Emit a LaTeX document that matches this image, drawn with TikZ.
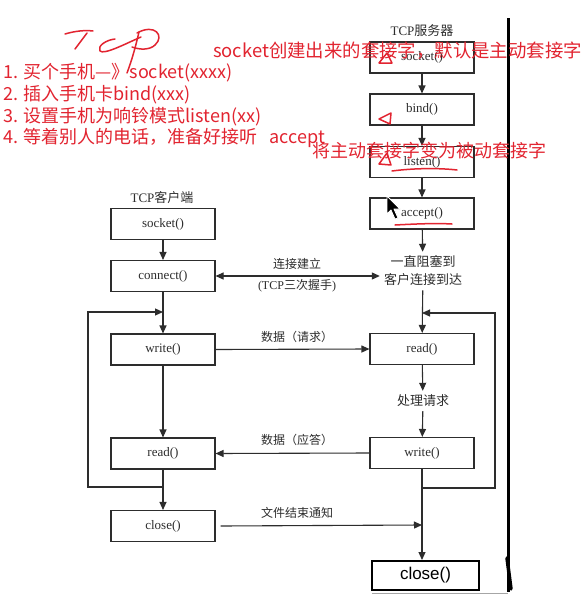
\documentclass[tikz,border=0pt]{standalone}
\usepackage{fontspec}
\setmainfont{Liberation Serif}
\setsansfont{Liberation Sans}
\newfontfamily\cjk{Noto Sans CJK SC}
\usetikzlibrary{arrows.meta,calc}

\definecolor{ink}{RGB}{45,45,45}
\definecolor{pen}{RGB}{226,36,48}

\begin{document}
\begin{tikzpicture}[x=1pt,y=-1pt,
  box/.style={draw=ink, line width=1.1pt, fill=white, minimum width=104pt,
    minimum height=31pt, inner sep=0pt, text=ink, font=\fontsize{13}{14}\selectfont},
  flow/.style={draw=ink, line width=1.1pt, -{Triangle[length=8pt,width=7pt]}},
  both/.style={draw=ink, line width=1.1pt, {Triangle[length=8pt,width=7pt]}-{Triangle[length=8pt,width=7pt]}},
  wire/.style={draw=ink, line width=1.1pt},
  lbl/.style={text=ink, inner sep=0pt, font=\cjk\fontsize{12}{13}\selectfont},
  note/.style={text=pen, inner sep=0pt, anchor=west, font=\cjk\fontsize{18}{20}\selectfont},
  penline/.style={draw=pen, line width=1.5pt, line cap=round, line join=round},
]
\useasboundingbox (0,0) rectangle (584,597);
\fill[white] (0,0) rectangle (584,597);

% ---------- client column ----------
\node[lbl, font=\fontsize{13}{14}\selectfont] (cltitle) at (162,198) {TCP{\cjk 客户端}};
\node[box] (csock)  at (163,224)   {socket()};
\node[box] (cconn)  at (163,276)   {connect()};
\node[box] (cwrite) at (163,349.5) {write()};
\node[box] (cread)  at (163,453.5) {read()};
\node[box] (cclose) at (163,526)   {close()};

% ---------- server column ----------
\node[lbl, font=\fontsize{13}{14}\selectfont] (srvtitle) at (422,31) {TCP{\cjk 服务器}};
\node[box] (ssock)   at (422,57.5)  {socket()};
\node[box] (sbind)   at (422,109.5) {bind()};
\node[box] (slisten) at (422,162)   {listen()};
\node[box] (saccept) at (422,213.5) {accept()};
\node[lbl, align=center, inner sep=4pt, font=\cjk\fontsize{13}{18}\selectfont]
  (block) at (423,271) {一直阻塞到\\客户连接到达};
\node[box] (sread)  at (422,349) {read()};
\node[lbl, inner sep=4pt, font=\cjk\fontsize{13}{14}\selectfont] (proc) at (423,401) {处理请求};
\node[box] (swrite) at (422,453) {write()};

% ---------- client flow ----------
\draw[flow] (csock) -- (cconn);
\draw[flow] (cconn) -- (cwrite);
\draw[flow] (cwrite) -- (cread);
\draw[flow] (cread) -- (cclose);
\coordinate (cjoin)  at (163,487);
\coordinate (centry) at (163,312);
\draw[flow] (cjoin) -- ++(-75,0) |- (centry);

% ---------- server flow ----------
\draw[flow] (ssock) -- (sbind);
\draw[flow] (sbind) -- (slisten);
\draw[flow] (slisten) -- (saccept);
\draw[flow] (saccept) -- (block);
\draw[flow] (block) -- (sread);
\draw[flow] (sread) -- (proc);
\draw[flow] (proc) -- (swrite);
\coordinate (sjoin)  at (422,488);
\coordinate (sentry) at (422,313);
\draw[flow] (sjoin) -- ++(73,0) |- (sentry);

% ---------- exchanges between the two sides ----------
\draw[both] (cconn.east) -- (cconn.east -| block.west);
\node[lbl] (lconn) at (297,264) {连接建立};
\node[lbl, font=\fontsize{12}{13}\selectfont] (lhand) at (297,286) {(TCP{\cjk 三次握手})};
\draw[flow] (cwrite.east) -- (sread.west);
\node[lbl] (lreq) at (297,337) {数据（请求）};
\draw[flow] (swrite.west) -- (cread.east);
\node[lbl] (lresp) at (297,440) {数据（应答）};
\coordinate (eof) at (422,525);
\draw[flow] ([xshift=5pt]cclose.east) -- (eof);
\node[lbl] (leof) at (297,513) {文件结束通知};

% ---------- server close, pasted over the page ----------
\fill[white] (340,553) rectangle (540,594);
\draw[gray!70, line width=1pt] (372,593) -- (508,593);
\node[draw=black, line width=2pt, fill=white, minimum width=107pt, minimum height=29pt,
  inner sep=0pt, font=\sffamily\fontsize{17}{18}\selectfont] (sclose) at (425.5,575.5) {close()};
\draw[flow] (swrite.south) -- (swrite.south |- sclose.north);

% ---------- divider ----------
\draw[black, line width=2.5pt] (508.5,18) -- (508.5,592);
\draw[black, line width=3.5pt, line cap=round] (507,558) -- (511,589);

% ---------- handwritten notes ----------
\node[note, font=\cjk\fontsize{18.4}{20}\selectfont] (n0) at (213,51) {socket创建出来的套接字，默认是主动套接字};
\node[note] (n5) at (312,151) {将主动套接字变为被动套接字};
\node[note] (n1) at (3,73)  {1. 买个手机—》socket(xxxx)};
\node[note] (n2) at (3,95)  {2. 插入手机卡bind(xxx)};
\node[note] (n3) at (3,117) {3. 设置手机为响铃模式listen(xx)};
\node[note] (n4) at (3,138) {4. 等着别人的电话，准备好接听\ \ \ accept};

% scribbled "TCP"
\draw[penline] (65,34) .. controls (75,31) and (85,30) .. (93,31);
\draw[penline] (87,33) -- (75,49);
\draw[penline] (115,39) .. controls (106,40) and (97,46) .. (100,51)
  .. controls (104,55) and (125,44) .. (141,37);
\draw[penline] (139,32) .. controls (136,45) and (132,60) .. (127,73);
\draw[penline] (137,33) .. controls (155,23) and (165,36) .. (155,45)
  .. controls (150,50) and (140,50) .. (132,47);

% small triangles and underlines
\draw[penline] (379,63) -- (387,53) -- (392,63) -- cycle;
\draw[penline] (379,119) -- (391,113) -- (390,124) -- cycle;
\draw[penline] (379,164) -- (387,153) -- (391,165) -- cycle;
\draw[penline] (392,171) .. controls (415,168) and (440,168) .. (457,170);
\draw[penline] (395,225) .. controls (415,224) and (435,223) .. (452,224);

% mouse pointer
\draw[white, line width=0.8pt, fill=black, line join=round]
  (387,196) -- (387,214) -- (391,210) -- (395,219) -- (398,218) -- (394,209) -- (400,209) -- cycle;
\end{tikzpicture}
\end{document}
